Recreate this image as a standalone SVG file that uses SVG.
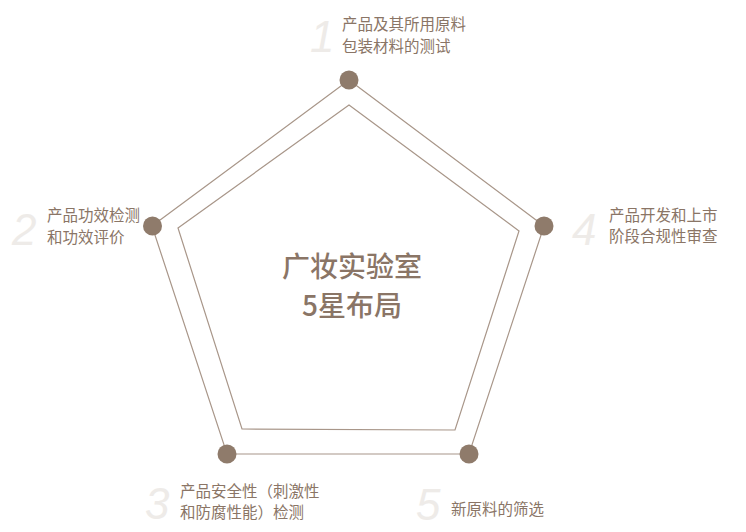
<svg xmlns="http://www.w3.org/2000/svg" width="746" height="532" viewBox="0 0 746 532">
<style>
.line{fill:none;stroke:#a89689;stroke-width:1.2}
.dot{fill:#8f7b6b}
.lbl{font-family:"Noto Sans CJK SC","Liberation Sans",sans-serif;font-size:15.5px;fill:#8a7566}
.num{font-family:"Liberation Sans",sans-serif;font-style:italic;font-size:44px;fill:#eeebe8}
.title{font-family:"Noto Sans CJK SC","Liberation Sans",sans-serif;font-size:28px;font-weight:500;fill:#8a7566;text-anchor:middle}
</style>
<rect width="746" height="532" fill="#ffffff"/>
<g id="connectors">
<polygon class="line" points="349,80 544,226 469,454 227,454 152,226"/>
<polygon class="line" points="349,105 519,231 455,430 242,429 178,228"/>
</g>
<g id="center">
<text class="title" x="352" y="277">广妆实验室</text>
<text class="title" x="352" y="316">5星布局</text>
</g>
<g id="node1">
<circle class="dot" cx="349" cy="80" r="9.5"/>
<text class="num" x="310" y="52">1</text>
<text class="lbl" x="342" y="30">产品及其所用原料</text>
<text class="lbl" x="342" y="52">包装材料的测试</text>
</g>
<g id="node2">
<circle class="dot" cx="152.5" cy="226" r="9.5"/>
<text class="num" x="12" y="245">2</text>
<text class="lbl" x="47" y="221">产品功效检测</text>
<text class="lbl" x="47" y="243">和功效评价</text>
</g>
<g id="node3">
<circle class="dot" cx="227" cy="454" r="9.5"/>
<text class="num" x="145" y="519">3</text>
<text class="lbl" x="180" y="497">产品安全性（刺激性</text>
<text class="lbl" x="180" y="518">和防腐性能）检测</text>
</g>
<g id="node4">
<circle class="dot" cx="544" cy="226" r="9.5"/>
<text class="num" x="572" y="245">4</text>
<text class="lbl" x="609" y="221">产品开发和上市</text>
<text class="lbl" x="609" y="242">阶段合规性审查</text>
</g>
<g id="node5">
<circle class="dot" cx="469" cy="454" r="9.5"/>
<text class="num" x="416" y="520">5</text>
<text class="lbl" x="451" y="515">新原料的筛选</text>
</g>
</svg>
